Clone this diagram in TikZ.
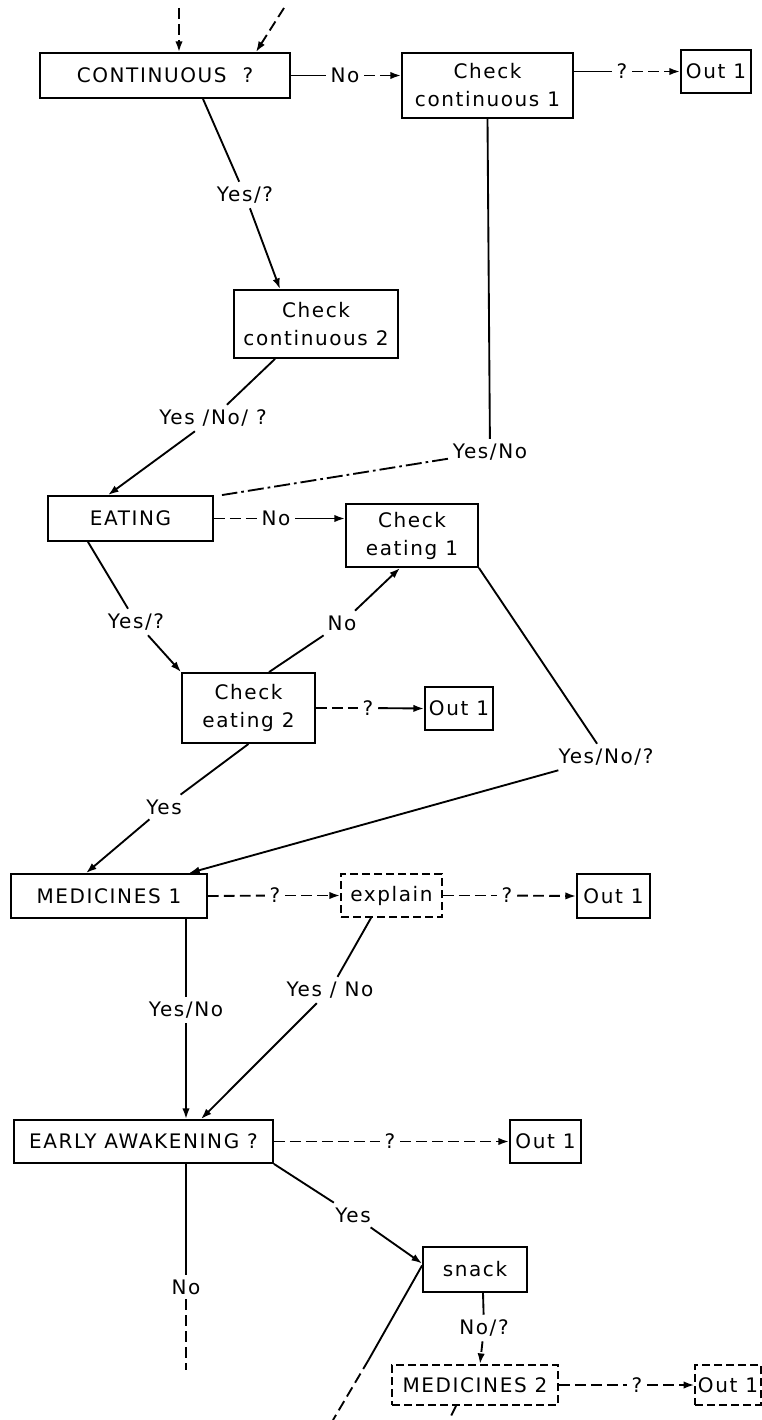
\documentclass[tikz,border=0pt]{standalone}
\usepackage{fontspec}
\setmainfont[LetterSpace=8]{DejaVu Sans}
\usetikzlibrary{arrows.meta,calc}

\tikzset{every picture/.style={line width=1.4pt}}
\tikzset{
  box/.style={draw, inner sep=2pt, align=center},
  dbox/.style={box, dash pattern=on 6pt off 3pt},
  lbl/.style={inner sep=3pt},
  arr/.style={-{Latex[length=8pt,width=5.5pt]}},
  dline/.style={dash pattern=on 8pt off 4pt},
  ddline/.style={dash pattern=on 12pt off 3pt on 2pt off 3pt}
}

\begin{document}
\begin{tikzpicture}[x=0.75pt,y=0.75pt,yscale=-1,xscale=1,font=\fontsize{15}{21}\selectfont]
\useasboundingbox (0,0) rectangle (762,1420);

%Shape: Rectangle [id:cont]
\node [box, minimum width=187.5pt, minimum height=33.75pt] (cont) at (165,75.5) {CONTINUOUS \ ?};
%Shape: Rectangle [id:chk1]
\node [box, minimum width=128.25pt, minimum height=48.75pt] (chk1) at (487.5,85.5) {Check\\continuous 1};
%Shape: Rectangle [id:out1]
\node [box, minimum width=52.5pt, minimum height=32.25pt] (out1) at (716,71.5) {Out 1};
%Shape: Rectangle [id:chk2]
\node [box, minimum width=123pt, minimum height=51pt] (chk2) at (316,324) {Check\\continuous 2};
%Shape: Rectangle [id:eat]
\node [box, minimum width=123.75pt, minimum height=33.75pt] (eat) at (130.5,518.5) {EATING};
%Shape: Rectangle [id:chke1]
\node [box, minimum width=99pt, minimum height=47.25pt] (chke1) at (412,535.5) {Check\\eating 1};
%Shape: Rectangle [id:chke2]
\node [box, minimum width=99.75pt, minimum height=52.5pt] (chke2) at (248.5,708) {Check\\eating 2};
%Shape: Rectangle [id:out2]
\node [box, minimum width=51pt, minimum height=32.25pt] (out2) at (459,708.5) {Out 1};
%Shape: Rectangle [id:med1]
\node [box, minimum width=147pt, minimum height=33pt] (med1) at (109,896) {MEDICINES 1};
%Shape: Rectangle [id:expl]
\node [dbox, minimum width=75.75pt, minimum height=32.25pt] (expl) at (391.5,895.5) {explain};
%Shape: Rectangle [id:out3]
\node [box, minimum width=54.75pt, minimum height=33pt] (out3) at (613.5,896) {Out 1};
%Shape: Rectangle [id:early]
\node [box, minimum width=194.25pt, minimum height=32.25pt] (early) at (143.5,1141.5) {EARLY AWAKENING ?};
%Shape: Rectangle [id:out4]
\node [box, minimum width=53.25pt, minimum height=32.25pt] (out4) at (545.5,1141.5) {Out 1};
%Shape: Rectangle [id:snack]
\node [box, minimum width=78pt, minimum height=33.75pt] (snack) at (475,1269.5) {snack};
%Shape: Rectangle [id:med2]
\node [dbox, minimum width=124.5pt, minimum height=30pt] (med2) at (475,1385) {MEDICINES 2};
%Shape: Rectangle [id:out5]
\node [dbox, minimum width=48pt, minimum height=30pt] (out5) at (728,1385) {Out 1};

% Text Node
\node [lbl] (lNo1) at (345,75.5) {No};
% Text Node
\node [lbl] (lQ1) at (622,71.5) {?};
% Text Node
\node [lbl] (lYQ1) at (245,195) {Yes/?};
% Text Node
\node [lbl] (lYNQ1) at (213,418) {Yes /No/ ?};
% Text Node
\node [lbl] (lYN1) at (490,452) {Yes/No};
% Text Node
\node [lbl] (lNo2) at (276,518.5) {No};
% Text Node
\node [lbl] (lYQ2) at (136,622) {Yes/?};
% Text Node
\node [lbl] (lNo3) at (342,623) {No};
% Text Node
\node [lbl] (lQ2) at (368,708) {?};
% Text Node
\node [lbl] (lYNQ2) at (606,757) {Yes/No/?};
% Text Node
\node [lbl] (lYes1) at (164,807) {Yes};
% Text Node
\node [lbl] (lQ3) at (275,895.5) {?};
% Text Node
\node [lbl] (lQ4) at (507,895.5) {?};
% Text Node
\node [lbl] (lYN2) at (186,1010) {Yes/No};
% Text Node
\node [lbl] (lYN3) at (330,990) {Yes / No};
% Text Node
\node [lbl] (lQ5) at (390,1141.5) {?};
% Text Node
\node [lbl] (lYes2) at (353,1215) {Yes};
% Text Node
\node [lbl] (lNo4) at (186,1287) {No};
% Text Node
\node [lbl] (lNo5) at (484,1328) {No/?};
% Text Node
\node [lbl] (lQ6) at (637,1385) {?};

% free ends
\coordinate (inA) at (179,8);
\coordinate (inB) at (284,8);
\coordinate (outA) at (186,1370);
\coordinate (outB) at (333,1420);
\coordinate (outC) at (449,1420);

%Straight Lines
\draw [dline,arr] (inA) -- (inA |- cont.north);
\draw [dline,arr] (inB) -- ($(cont.north east)+(-35,0)$);
\draw (cont.east) -- (lNo1);
\draw [dline,arr] (lNo1) -- (lNo1 -| chk1.west);
\draw (lQ1 -| chk1.east) -- (lQ1);
\draw [dline,arr] (lQ1) -- (out1.west);
\draw ($(cont.south)+(38,0)$) -- (lYQ1);
\draw [arr] (lYQ1) -- ($(chk2.north)+(-36,0)$);
\draw ($(chk2.south)+(-41,0)$) -- (lYNQ1);
\draw [arr] (lYNQ1) -- ($(eat.north)+(-22.5,0)$);
\draw (chk1.south) -- (lYN1);
\draw [ddline] (lYN1) -- ($(eat.north east)+(8,0)$);
\draw [dline] (eat.east) -- (lNo2);
\draw [arr] (lNo2) -- (lNo2 -| chke1.west);
\draw ($(eat.south)+(-42.5,0)$) -- (lYQ2);
\draw [arr] (lYQ2) -- (chke2.north west);
\draw ($(chke2.north)+(20.5,0)$) -- (lNo3);
\draw [arr] (lNo3) -- ($(chke1.south)+(-12,0)$);
\draw [dline] (chke2.east) -- (lQ2);
\draw [arr] (lQ2) -- (out2.west);
\draw (chke1.south east) -- (lYNQ2);
\draw [arr] (lYNQ2) -- ($(med1.north)+(80,0)$);
\draw (chke2.south) -- (lYes1);
\draw [arr] (lYes1) -- ($(med1.north)+(-23,0)$);
\draw [dline] (med1.east) -- (lQ3);
\draw [dline,arr] (lQ3) -- (expl.west);
\draw [dline] (expl.east) -- (lQ4);
\draw [dline,arr] (lQ4) -- (out3.west);
\draw ($(med1.south)+(77,0)$) -- (lYN2);
\draw [arr] (lYN2) -- (lYN2 |- early.north);
\draw ($(expl.south)+(-20.5,0)$) -- (lYN3);
\draw [arr] (lYN3) -- ($(early.north)+(57.5,0)$);
\draw [dline] (early.east) -- (lQ5);
\draw [dline,arr] (lQ5) -- (out4.west);
\draw (early.south east) -- (lYes2);
\draw [arr] (lYes2) -- ($(snack.west)+(0,-6)$);
\draw ($(early.south)+(42.5,0)$) -- (lNo4);
\draw [dline] (lNo4) -- (outA);
\draw ($(snack.south)+(8,0)$) -- (lNo5);
\draw [dline,arr] (lNo5) -- ($(med2.north)+(5,0)$);
\draw [dline] (med2.east) -- (lQ6);
\draw [dline,arr] (lQ6) -- (out5.west);
\draw ($(snack.west)+(0,-4)$) -- ($(snack.west)!0.6!(outB)$);
\draw [dline] ($(snack.west)!0.6!(outB)$) -- (outB);
\draw [dline] ($(med2.south)+(-19,0)$) -- (outC);

\end{tikzpicture}
\end{document}
